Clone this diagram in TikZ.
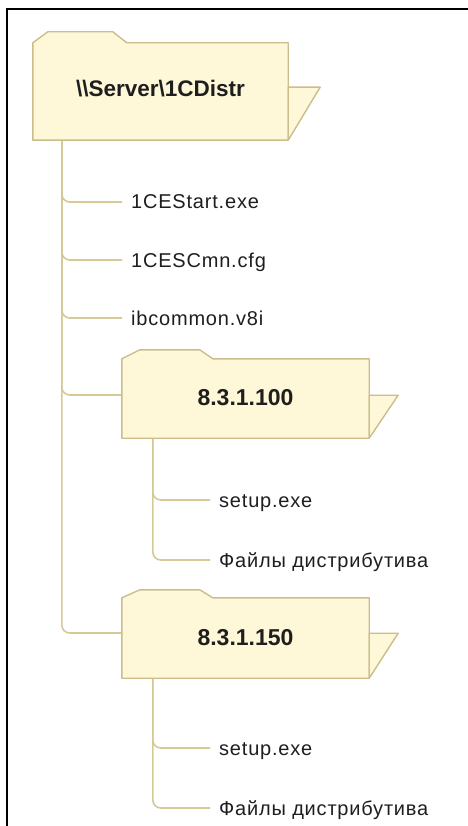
\documentclass[tikz,border=0pt]{standalone}
\usepackage{fontspec}
\setmainfont{Liberation Sans}
\newfontfamily\leaffont[LetterSpace=4]{Liberation Sans}
\usetikzlibrary{backgrounds}
\definecolor{foldfill}{HTML}{FEF7D8}
\definecolor{foldline}{HTML}{CBBE8C}
\definecolor{connline}{HTML}{D5C995}
\definecolor{txt}{HTML}{1E1E1E}
\begin{document}
\begin{tikzpicture}[x=1pt,y=-1pt,
 folderbody/.style={rectangle, inner sep=0pt, font=\fontsize{23}{26}\selectfont\bfseries, text=txt, text height=17pt, text depth=3pt},
 leaf/.style={anchor=west, inner xsep=9pt, inner ysep=0pt, font=\leaffont\fontsize{20}{24}\selectfont, text=txt, text height=14pt, text depth=0pt},
 conn/.style={draw=connline, line width=1.6pt, rounded corners=8pt},
 outline/.style={draw=foldline, fill=foldfill, line width=1.4pt, line join=round},
 frame/.style={draw=black, line width=2.2pt}]
\useasboundingbox (0,0) rectangle (467,826);
\draw[frame] (7,827) -- (7,9) -- (468,9);

\node[folderbody, minimum width=255pt, minimum height=97pt, text depth=7pt, font=\fontsize{22.5}{26}\selectfont\bfseries] (root) at (160.5,91.5) {\textbackslash\textbackslash Server\textbackslash 1CDistr};
\node[leaf] (c1) at (122,202) {1CEStart.exe};
\node[leaf] (c2) at (122,260) {1CESCmn.cfg};
\node[leaf] (c3) at (122,318) {ibcommon.v8i};
\node[folderbody, minimum width=247pt, minimum height=79pt] (f100) at (245.5,398.5) {8.3.1.100};
\node[leaf] (a1) at (210,500) {setup.exe};
\node[leaf] (a2) at (210,560) {Файлы дистрибутива};
\node[folderbody, minimum width=247pt, minimum height=80pt] (f150) at (245.5,638) {8.3.1.150};
\node[leaf] (b1) at (210,748) {setup.exe};
\node[leaf] (b2) at (210,808) {Файлы дистрибутива};

\begin{scope}[on background layer]
 \coordinate (rstem) at ([xshift=29pt]root.south west);
 \coordinate (s1) at ([xshift=31pt]f100.south west);
 \coordinate (s2) at ([xshift=31pt]f150.south west);
 \draw[conn] (rstem) |- (c1.west);
 \draw[conn] (rstem) |- (c2.west);
 \draw[conn] (rstem) |- (c3.west);
 \draw[conn] (rstem) |- ([yshift=3.5pt]f100.west);
 \draw[conn] (rstem) |- ([yshift=5pt]f150.west);
 \draw[conn] (s1) |- (a1.west);
 \draw[conn] (s1) |- (a2.west);
 \draw[conn] (s2) |- (b1.west);
 \draw[conn] (s2) |- (b2.west);
 % root folder
 \draw[outline] (root.south west) -- (root.north west) -- ++(15,-11) -- ++(65,0) -- ++(14,11) -- (root.north east) -- (root.south east) -- cycle;
 \draw[outline] ([yshift=53pt]root.south east) -- ++(32,0) -- (root.south east) -- cycle;
 % 8.3.1.100
 \draw[outline] (f100.south west) -- (f100.north west) -- ++(18,-9) -- ++(60,0) -- ++(13,9) -- (f100.north east) -- (f100.south east) -- cycle;
 \draw[outline] ([yshift=43pt]f100.south east) -- ++(29,0) -- (f100.south east) -- cycle;
 % 8.3.1.150
 \draw[outline] (f150.south west) -- (f150.north west) -- ++(18,-8) -- ++(60,0) -- ++(13,8) -- (f150.north east) -- (f150.south east) -- cycle;
 \draw[outline] ([yshift=45pt]f150.south east) -- ++(29,0) -- (f150.south east) -- cycle;
\end{scope}
\end{tikzpicture}
\end{document}
